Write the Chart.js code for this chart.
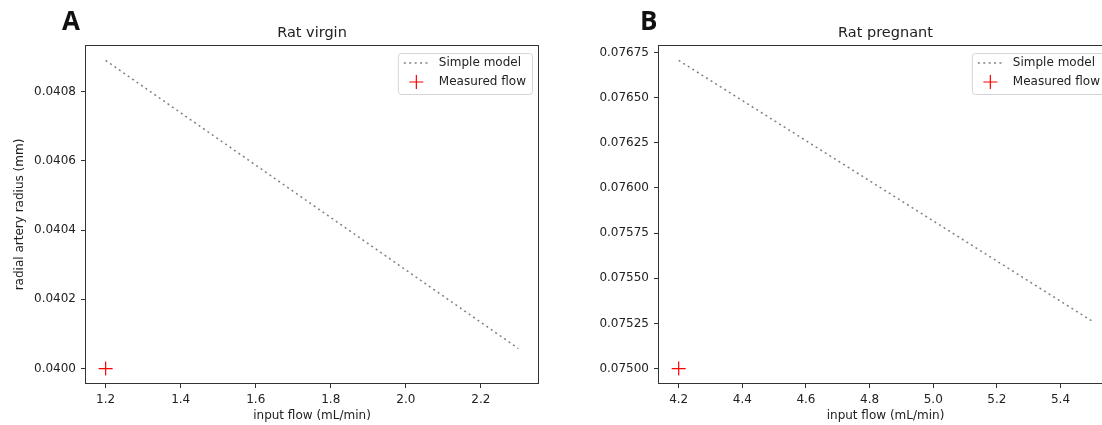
<!DOCTYPE html>
<html><head><meta charset="utf-8">
<script src="https://cdn.jsdelivr.net/npm/chart.js@4.4.0/dist/chart.umd.min.js"></script>
<style>
html,body{margin:0;padding:0;background:#fff;overflow:hidden;width:1102px;height:425px}
#wrap{position:relative;width:1102px;height:425px;overflow:hidden;background:#fff}
.pane{position:absolute;top:0;height:425px}
#pa{left:0;width:550px}
#pb{left:573px;width:551px}
.lab{position:absolute;font-family:"Open Sans",sans-serif;font-weight:700;font-size:26px;line-height:26px;color:#111}
</style></head><body>
<div id="wrap">
  <div class="pane" id="pa"><canvas id="ca"></canvas></div>
  <div class="pane" id="pb"><canvas id="cb"></canvas></div>
  <div class="lab" style="left:62px;top:7px">A</div>
  <div class="lab" style="left:640px;top:7px">B</div>
</div>
<script>
// ---- data ----
const virginFlowModel = [1.2, 2.3];
const virginRadiusModel = [0.04089, 0.040058];
const virginFlowMeasured = [1.2];
const virginRadiusMeasured = [0.0400];
const virginXTicks = [1.2, 1.4, 1.6, 1.8, 2.0, 2.2];
const virginYTicks = [0.0400, 0.0402, 0.0404, 0.0406, 0.0408];

const pregFlowModel = [4.2, 5.5];
const pregRadiusModel = [0.076706, 0.075262];
const pregFlowMeasured = [4.2];
const pregRadiusMeasured = [0.07500];
const pregXTicks = [4.2, 4.4, 4.6, 4.8, 5.0, 5.2, 5.4];
const pregYTicks = [0.07500, 0.07525, 0.07550, 0.07575, 0.07600, 0.07625, 0.07650, 0.07675];

const titles = ['Rat virgin', 'Rat pregnant'];
const seriesNames = ['Simple model', 'Measured flow'];
const xLabel = 'input flow (mL/min)';
const yLabel = 'radial artery radius (mm)';

const FONT = '"DejaVu Sans", sans-serif';
const TXT = '#222';
const AX = '#333';

function pts(xs, ys) { return xs.map((x, i) => ({x: x, y: ys[i]})); }
function lim(vals) {
  const mn = Math.min(...vals), mx = Math.max(...vals), m = (mx - mn) * 0.05;
  return [mn - m, mx + m];
}

const frameLegend = {
  id: 'frameLegend',
  afterDatasetsDraw(chart) {
    const {ctx, chartArea: a} = chart;
    ctx.save();
    ctx.strokeStyle = AX; ctx.lineWidth = 1;
    ctx.strokeRect(Math.round(a.left) + 0.5, Math.round(a.top) + 0.5,
                   Math.round(a.right - a.left) - 1, Math.round(a.bottom - a.top) - 1);
    ctx.font = '12px ' + FONT;
    const ds = chart.data.datasets;
    const tw = Math.max(...ds.map(d => ctx.measureText(d.label).width));
    const w = 41 + tw + 6, h = 41;
    const x = a.right - 7 - w, y = a.top + 8;
    ctx.beginPath();
    if (ctx.roundRect) ctx.roundRect(x + 0.5, y + 0.5, w, h, 3); else ctx.rect(x + 0.5, y + 0.5, w, h);
    ctx.fillStyle = 'rgba(255,255,255,0.85)'; ctx.fill();
    ctx.strokeStyle = '#d5d5d5'; ctx.lineWidth = 1; ctx.stroke();
    const r1 = y + 10, r2 = y + 29;
    ctx.strokeStyle = ds[0].borderColor; ctx.lineWidth = ds[0].borderWidth;
    ctx.setLineDash(ds[0].borderDash);
    ctx.beginPath(); ctx.moveTo(x + 6, r1); ctx.lineTo(x + 31, r1); ctx.stroke();
    ctx.setLineDash([]);
    const cx = x + 18.5, s = ds[1].pointRadius;
    ctx.strokeStyle = ds[1].borderColor; ctx.lineWidth = ds[1].borderWidth;
    ctx.beginPath(); ctx.moveTo(cx - s, r2); ctx.lineTo(cx + s, r2);
    ctx.moveTo(cx, r2 - s); ctx.lineTo(cx, r2 + s); ctx.stroke();
    ctx.fillStyle = TXT; ctx.textBaseline = 'middle'; ctx.textAlign = 'left';
    ctx.fillText(ds[0].label, x + 41, r1);
    ctx.fillText(ds[1].label, x + 41, r2);
    ctx.restore();
  }
};

function makeChart(id, cfg) {
  const xl = lim(cfg.xm.concat(cfg.xs));
  const yl = lim(cfg.ym.concat(cfg.ys));
  return new Chart(document.getElementById(id), {
    type: 'scatter',
    data: {
      datasets: [
        { label: seriesNames[0], data: pts(cfg.xm, cfg.ym), showLine: true,
          borderColor: '#808080', borderWidth: 1.5, borderDash: [2, 3.4],
          pointRadius: 0, pointHoverRadius: 0, fill: false },
        { label: seriesNames[1], data: pts(cfg.xs, cfg.ys), showLine: false,
          pointStyle: 'cross', pointRadius: 7, pointHoverRadius: 7,
          borderColor: '#ff0000', backgroundColor: '#ff0000', borderWidth: 1.2 }
      ]
    },
    options: {
      responsive: true, maintainAspectRatio: false, animation: false,
      layout: { padding: { left: 0, right: cfg.padRight, top: 0, bottom: 0 } },
      plugins: {
        legend: { display: false }, tooltip: { enabled: false },
        title: { display: true, text: cfg.title, fullSize: false, color: TXT,
                 font: { family: FONT, size: 14.5, weight: 'normal', lineHeight: 1.2 },
                 padding: { top: 25, bottom: 2.6 } }
      },
      scales: {
        x: {
          type: 'linear', min: xl[0], max: xl[1],
          afterBuildTicks: s => { s.ticks = cfg.xt.map(v => ({value: v})); },
          afterFit: s => { s.height = 41; },
          grid: { drawOnChartArea: false, drawTicks: true, tickLength: 4, color: AX, lineWidth: 1 },
          border: { display: false },
          ticks: { color: TXT, font: { family: FONT, size: 12 }, padding: 5, maxRotation: 0,
                   callback: v => v.toFixed(1) },
          title: { display: true, text: xLabel, color: TXT,
                   font: { family: FONT, size: 12 }, padding: { top: 0, bottom: 2 } }
        },
        y: {
          type: 'linear', min: yl[0], max: yl[1],
          afterBuildTicks: s => { s.ticks = cfg.yt.map(v => ({value: v})); },
          afterFit: s => { s.width = 85; },
          grid: { drawOnChartArea: false, drawTicks: true, tickLength: 4, color: AX, lineWidth: 1 },
          border: { display: false },
          ticks: { color: TXT, font: { family: FONT, size: 12 }, padding: 5,
                   callback: v => v.toFixed(cfg.dec) },
          title: { display: cfg.showY, text: yLabel, color: TXT,
                   font: { family: FONT, size: 12 }, padding: { top: 13, bottom: 0 } }
        }
      }
    },
    plugins: [frameLegend]
  });
}

makeChart('ca', { title: titles[0], xm: virginFlowModel, ym: virginRadiusModel,
  xs: virginFlowMeasured, ys: virginRadiusMeasured, xt: virginXTicks, yt: virginYTicks,
  dec: 4, showY: true, padRight: 11 });
makeChart('cb', { title: titles[1], xm: pregFlowModel, ym: pregRadiusModel,
  xs: pregFlowMeasured, ys: pregRadiusMeasured, xt: pregXTicks, yt: pregYTicks,
  dec: 5, showY: false, padRight: 11 });
</script>
</body></html>
